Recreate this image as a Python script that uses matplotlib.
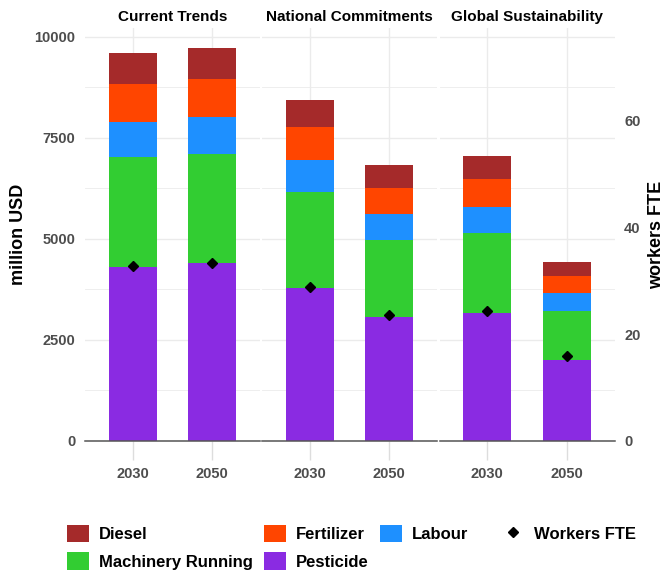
import matplotlib
matplotlib.use("Agg")
import matplotlib.pyplot as plt
from matplotlib.patches import Patch
from matplotlib.lines import Line2D
from matplotlib.ticker import MultipleLocator

plt.rcParams['font.family'] = ['Liberation Sans', 'DejaVu Sans']

# data (million USD, workers FTE)
scenarios = ['Current Trends', 'National Commitments', 'Global Sustainability']
years = ['2030', '2050']
pesticide = [4307, 4406, 3779, 3062, 3160, 2000]
machinery = [2715, 2706, 2384, 1921, 1980, 1226]
labour = [882, 900, 785, 636, 650, 430]
fertilizer = [925, 941, 817, 651, 700, 436]
diesel = [768, 767, 676, 554, 552, 331]
workers = [32.9, 33.4, 28.9, 23.6, 24.3, 15.9]

components = [
    ('Pesticide', pesticide, '#8A2BE2'),
    ('Machinery Running', machinery, '#32CD32'),
    ('Labour', labour, '#1E90FF'),
    ('Fertilizer', fertilizer, '#FF4500'),
    ('Diesel', diesel, '#A52A2A'),
]
scale = 132.0  # million USD per worker FTE on the secondary axis

W, H = 670, 580
fig = plt.figure(figsize=(W / 100, H / 100), dpi=100)

def fx(x):
    return x / W

def fy(y):
    return 1 - y / H

panel_top, panel_bottom = 28, 441
lefts = [85, 262, 439.5]
panel_w = 175
ymax = 10220
grid_c = '#ebebeb'
tick_c = '#4d4d4d'

for i, scen in enumerate(scenarios):
    ax = fig.add_axes([fx(lefts[i]), fy(panel_bottom), panel_w / W, (panel_bottom - panel_top) / H])
    xs = [1, 2]
    bottom = [0, 0]
    for name, vals, col in components:
        v = vals[2 * i:2 * i + 2]
        ax.bar(xs, v, width=0.6, bottom=bottom, color=col, zorder=2, linewidth=0)
        bottom = [b + c for b, c in zip(bottom, v)]
    w = workers[2 * i:2 * i + 2]
    ax.plot(xs, [x * scale for x in w], ls='none', marker='D', ms=5, color='black', zorder=3)

    ax.set_xlim(0.4, 2.6)
    ax.set_ylim(0, ymax)
    ax.set_xticks(xs)
    ax.set_xticklabels(years, fontsize=10.5, fontweight='bold', color=tick_c)
    ax.yaxis.set_major_locator(MultipleLocator(2500))
    ax.yaxis.set_minor_locator(MultipleLocator(1250))
    ax.grid(True, which='major', color=grid_c, lw=1.0, zorder=0)
    ax.grid(True, which='minor', axis='y', color=grid_c, lw=0.6, zorder=0)
    ax.set_axisbelow(True)
    for s in ['top', 'right', 'left']:
        ax.spines[s].set_visible(False)
    ax.spines['bottom'].set_color('#555555')
    ax.spines['bottom'].set_linewidth(1.1)
    ax.spines['bottom'].set_zorder(4)
    ax.tick_params(axis='x', length=14, width=1.0, color='#dddddd', pad=5)
    ax.tick_params(axis='y', which='both', length=0, pad=7)
    if i == 0:
        ax.set_yticks([0, 2500, 5000, 7500, 10000])
        ax.set_yticklabels(['0', '2500', '5000', '7500', '10000'], fontsize=10.5,
                           fontweight='bold', color=tick_c)
        ax.set_ylabel('million USD', fontsize=13, fontweight='bold', labelpad=5)
    else:
        ax.tick_params(axis='y', labelleft=False)
    ax.set_title(scen, fontsize=11, fontweight='bold', pad=5)

    if i == 2:
        sec = ax.secondary_yaxis('right', functions=(lambda y: y / scale, lambda w: w * scale))
        sec.set_yticks([0, 20, 40, 60])
        sec.set_yticklabels(['0', '20', '40', '60'], fontsize=10.5, fontweight='bold', color=tick_c)
        sec.tick_params(length=0, pad=7)
        sec.spines['right'].set_visible(False)
        sec.set_ylabel('workers FTE', fontsize=13, fontweight='bold', rotation=90, labelpad=5)

# legends
cols = {name: col for name, _, col in components}
order = ['Diesel', 'Machinery Running', 'Fertilizer', 'Pesticide', 'Labour']
handles = [Patch(facecolor=cols[n], edgecolor='none') for n in order]
fig.legend(handles, order, ncol=3, loc='upper left', bbox_to_anchor=(fx(67), fy(525)),
           frameon=False, prop={'size': 12, 'weight': 'bold'}, handlelength=1.3,
           handleheight=1.2, handletextpad=0.6, columnspacing=0.7, labelspacing=0.62,
           borderaxespad=0, borderpad=0)
fig.legend([Line2D([], [], ls='none', marker='D', ms=5, color='black')], ['Workers FTE'],
           loc='upper left', bbox_to_anchor=(fx(502), fy(525)), frameon=False,
           prop={'size': 12, 'weight': 'bold'}, handlelength=1.3, handleheight=1.2,
           handletextpad=0.6, borderaxespad=0, borderpad=0)

fig.savefig('out.png', dpi=100)
